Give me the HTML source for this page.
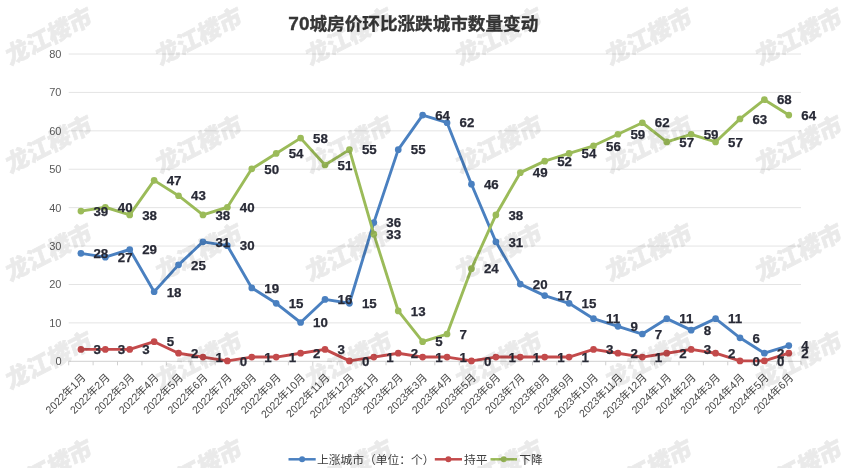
<!DOCTYPE html>
<html lang="zh-CN">
<head>
<meta charset="utf-8">
<title>70城房价环比涨跌城市数量变动</title>
<style>
html,body{margin:0;padding:0;background:#fff;}
body{width:841px;height:468px;overflow:hidden;}
svg{display:block;}
.wm{font-family:"Liberation Sans","Noto Sans CJK SC",sans-serif;font-weight:900;font-size:23.5px;fill:#000;stroke:#000;stroke-width:0.7px;stroke-linejoin:round;}
.title{font-family:"Liberation Sans","Noto Sans CJK SC",sans-serif;font-weight:bold;font-size:17.6px;fill:#363636;stroke:#363636;stroke-width:0.35px;}
.title .n{font-size:19px;}
.yl{font-family:"Liberation Sans","Noto Sans CJK SC",sans-serif;font-size:11px;fill:#595959;}
.xl{font-family:"Liberation Sans","Noto Sans CJK SC",sans-serif;font-size:10.7px;fill:#4a4a4a;}
.dl{font-family:"Liberation Sans","Noto Sans CJK SC",sans-serif;font-size:13.3px;font-weight:bold;fill:#282a36;stroke:#282a36;stroke-width:0.25px;}
.lg{font-family:"Liberation Sans","Noto Sans CJK SC",sans-serif;font-size:11.75px;fill:#404040;}
</style>
</head>
<body>
<svg width="841" height="468" viewBox="0 0 841 468">
<rect x="0" y="0" width="841" height="468" fill="#ffffff"/>

<g stroke="#e4e4e4" stroke-width="1" fill="none">
<line x1="68.7" y1="322.89" x2="801.0" y2="322.89"/>
<line x1="68.7" y1="284.48" x2="801.0" y2="284.48"/>
<line x1="68.7" y1="246.06" x2="801.0" y2="246.06"/>
<line x1="68.7" y1="207.65" x2="801.0" y2="207.65"/>
<line x1="68.7" y1="169.24" x2="801.0" y2="169.24"/>
<line x1="68.7" y1="130.83" x2="801.0" y2="130.83"/>
<line x1="68.7" y1="92.41" x2="801.0" y2="92.41"/>
<line x1="68.7" y1="54.00" x2="801.0" y2="54.00"/>
</g>
<g stroke="#d0d0d0" stroke-width="1" fill="none">
<line x1="68.7" y1="361.30" x2="801.0" y2="361.30"/>
<line x1="68.70" y1="361.30" x2="68.70" y2="365.30"/>
<line x1="93.11" y1="361.30" x2="93.11" y2="365.30"/>
<line x1="117.52" y1="361.30" x2="117.52" y2="365.30"/>
<line x1="141.93" y1="361.30" x2="141.93" y2="365.30"/>
<line x1="166.34" y1="361.30" x2="166.34" y2="365.30"/>
<line x1="190.75" y1="361.30" x2="190.75" y2="365.30"/>
<line x1="215.16" y1="361.30" x2="215.16" y2="365.30"/>
<line x1="239.57" y1="361.30" x2="239.57" y2="365.30"/>
<line x1="263.98" y1="361.30" x2="263.98" y2="365.30"/>
<line x1="288.39" y1="361.30" x2="288.39" y2="365.30"/>
<line x1="312.80" y1="361.30" x2="312.80" y2="365.30"/>
<line x1="337.21" y1="361.30" x2="337.21" y2="365.30"/>
<line x1="361.62" y1="361.30" x2="361.62" y2="365.30"/>
<line x1="386.03" y1="361.30" x2="386.03" y2="365.30"/>
<line x1="410.44" y1="361.30" x2="410.44" y2="365.30"/>
<line x1="434.85" y1="361.30" x2="434.85" y2="365.30"/>
<line x1="459.26" y1="361.30" x2="459.26" y2="365.30"/>
<line x1="483.67" y1="361.30" x2="483.67" y2="365.30"/>
<line x1="508.08" y1="361.30" x2="508.08" y2="365.30"/>
<line x1="532.49" y1="361.30" x2="532.49" y2="365.30"/>
<line x1="556.90" y1="361.30" x2="556.90" y2="365.30"/>
<line x1="581.31" y1="361.30" x2="581.31" y2="365.30"/>
<line x1="605.72" y1="361.30" x2="605.72" y2="365.30"/>
<line x1="630.13" y1="361.30" x2="630.13" y2="365.30"/>
<line x1="654.54" y1="361.30" x2="654.54" y2="365.30"/>
<line x1="678.95" y1="361.30" x2="678.95" y2="365.30"/>
<line x1="703.36" y1="361.30" x2="703.36" y2="365.30"/>
<line x1="727.77" y1="361.30" x2="727.77" y2="365.30"/>
<line x1="752.18" y1="361.30" x2="752.18" y2="365.30"/>
<line x1="776.59" y1="361.30" x2="776.59" y2="365.30"/>
<line x1="801.00" y1="361.30" x2="801.00" y2="365.30"/>
</g>
<g class="yl" text-anchor="end">
<text x="61.5" y="365.30">0</text>
<text x="61.5" y="326.89">10</text>
<text x="61.5" y="288.48">20</text>
<text x="61.5" y="250.06">30</text>
<text x="61.5" y="211.65">40</text>
<text x="61.5" y="173.24">50</text>
<text x="61.5" y="134.83">60</text>
<text x="61.5" y="96.41">70</text>
<text x="61.5" y="58.00">80</text>
</g>
<g class="xl" text-anchor="end">
<text transform="translate(86.20,378.30) rotate(-45)" x="0" y="0">2022年1月</text>
<text transform="translate(110.61,378.30) rotate(-45)" x="0" y="0">2022年2月</text>
<text transform="translate(135.03,378.30) rotate(-45)" x="0" y="0">2022年3月</text>
<text transform="translate(159.44,378.30) rotate(-45)" x="0" y="0">2022年4月</text>
<text transform="translate(183.85,378.30) rotate(-45)" x="0" y="0">2022年5月</text>
<text transform="translate(208.25,378.30) rotate(-45)" x="0" y="0">2022年6月</text>
<text transform="translate(232.67,378.30) rotate(-45)" x="0" y="0">2022年7月</text>
<text transform="translate(257.07,378.30) rotate(-45)" x="0" y="0">2022年8月</text>
<text transform="translate(281.49,378.30) rotate(-45)" x="0" y="0">2022年9月</text>
<text transform="translate(305.90,378.30) rotate(-45)" x="0" y="0">2022年10月</text>
<text transform="translate(330.31,378.30) rotate(-45)" x="0" y="0">2022年11月</text>
<text transform="translate(354.71,378.30) rotate(-45)" x="0" y="0">2022年12月</text>
<text transform="translate(379.12,378.30) rotate(-45)" x="0" y="0">2023年1月</text>
<text transform="translate(403.54,378.30) rotate(-45)" x="0" y="0">2023年2月</text>
<text transform="translate(427.94,378.30) rotate(-45)" x="0" y="0">2023年3月</text>
<text transform="translate(452.36,378.30) rotate(-45)" x="0" y="0">2023年4月</text>
<text transform="translate(476.76,378.30) rotate(-45)" x="0" y="0">2023年5月</text>
<text transform="translate(501.18,378.30) rotate(-45)" x="0" y="0">2023年6月</text>
<text transform="translate(525.58,378.30) rotate(-45)" x="0" y="0">2023年7月</text>
<text transform="translate(550.00,378.30) rotate(-45)" x="0" y="0">2023年8月</text>
<text transform="translate(574.40,378.30) rotate(-45)" x="0" y="0">2023年9月</text>
<text transform="translate(598.82,378.30) rotate(-45)" x="0" y="0">2023年10月</text>
<text transform="translate(623.23,378.30) rotate(-45)" x="0" y="0">2023年11月</text>
<text transform="translate(647.63,378.30) rotate(-45)" x="0" y="0">2023年12月</text>
<text transform="translate(672.04,378.30) rotate(-45)" x="0" y="0">2024年1月</text>
<text transform="translate(696.46,378.30) rotate(-45)" x="0" y="0">2024年2月</text>
<text transform="translate(720.87,378.30) rotate(-45)" x="0" y="0">2024年3月</text>
<text transform="translate(745.27,378.30) rotate(-45)" x="0" y="0">2024年4月</text>
<text transform="translate(769.69,378.30) rotate(-45)" x="0" y="0">2024年5月</text>
<text transform="translate(794.10,378.30) rotate(-45)" x="0" y="0">2024年6月</text>
</g>
<text class="title" x="413.3" y="30.2" text-anchor="middle"><tspan class="n">70</tspan>城房价环比涨跌城市数量变动</text>
<polyline points="80.91,253.34 105.31,257.19 129.72,249.50 154.13,291.76 178.55,264.87 202.95,241.82 227.37,245.66 251.77,287.92 276.19,303.28 300.60,322.49 325.00,299.44 349.41,303.28 373.82,222.61 398.24,149.63 422.64,115.06 447.06,122.74 471.46,184.20 495.88,241.82 520.28,284.08 544.70,295.60 569.11,303.28 593.52,318.65 617.93,326.33 642.34,334.01 666.75,318.65 691.16,330.17 715.57,318.65 739.98,337.85 764.39,353.22 788.80,345.54" fill="none" stroke="#4a80c0" stroke-width="2.9" stroke-linejoin="round" stroke-linecap="round"/>
<g fill="#4a80c0">
<circle cx="80.91" cy="253.34" r="3.35"/>
<circle cx="105.31" cy="257.19" r="3.35"/>
<circle cx="129.72" cy="249.50" r="3.35"/>
<circle cx="154.13" cy="291.76" r="3.35"/>
<circle cx="178.55" cy="264.87" r="3.35"/>
<circle cx="202.95" cy="241.82" r="3.35"/>
<circle cx="227.37" cy="245.66" r="3.35"/>
<circle cx="251.77" cy="287.92" r="3.35"/>
<circle cx="276.19" cy="303.28" r="3.35"/>
<circle cx="300.60" cy="322.49" r="3.35"/>
<circle cx="325.00" cy="299.44" r="3.35"/>
<circle cx="349.41" cy="303.28" r="3.35"/>
<circle cx="373.82" cy="222.61" r="3.35"/>
<circle cx="398.24" cy="149.63" r="3.35"/>
<circle cx="422.64" cy="115.06" r="3.35"/>
<circle cx="447.06" cy="122.74" r="3.35"/>
<circle cx="471.46" cy="184.20" r="3.35"/>
<circle cx="495.88" cy="241.82" r="3.35"/>
<circle cx="520.28" cy="284.08" r="3.35"/>
<circle cx="544.70" cy="295.60" r="3.35"/>
<circle cx="569.11" cy="303.28" r="3.35"/>
<circle cx="593.52" cy="318.65" r="3.35"/>
<circle cx="617.93" cy="326.33" r="3.35"/>
<circle cx="642.34" cy="334.01" r="3.35"/>
<circle cx="666.75" cy="318.65" r="3.35"/>
<circle cx="691.16" cy="330.17" r="3.35"/>
<circle cx="715.57" cy="318.65" r="3.35"/>
<circle cx="739.98" cy="337.85" r="3.35"/>
<circle cx="764.39" cy="353.22" r="3.35"/>
<circle cx="788.80" cy="345.54" r="3.35"/>
</g>
<polyline points="80.91,349.38 105.31,349.38 129.72,349.38 154.13,341.69 178.55,353.22 202.95,357.06 227.37,360.90 251.77,357.06 276.19,357.06 300.60,353.22 325.00,349.38 349.41,360.90 373.82,357.06 398.24,353.22 422.64,357.06 447.06,357.06 471.46,360.90 495.88,357.06 520.28,357.06 544.70,357.06 569.11,357.06 593.52,349.38 617.93,353.22 642.34,357.06 666.75,353.22 691.16,349.38 715.57,353.22 739.98,360.90 764.39,360.90 788.80,353.22" fill="none" stroke="#c34a4b" stroke-width="2.9" stroke-linejoin="round" stroke-linecap="round"/>
<g fill="#c34a4b">
<circle cx="80.91" cy="349.38" r="3.35"/>
<circle cx="105.31" cy="349.38" r="3.35"/>
<circle cx="129.72" cy="349.38" r="3.35"/>
<circle cx="154.13" cy="341.69" r="3.35"/>
<circle cx="178.55" cy="353.22" r="3.35"/>
<circle cx="202.95" cy="357.06" r="3.35"/>
<circle cx="227.37" cy="360.90" r="3.35"/>
<circle cx="251.77" cy="357.06" r="3.35"/>
<circle cx="276.19" cy="357.06" r="3.35"/>
<circle cx="300.60" cy="353.22" r="3.35"/>
<circle cx="325.00" cy="349.38" r="3.35"/>
<circle cx="349.41" cy="360.90" r="3.35"/>
<circle cx="373.82" cy="357.06" r="3.35"/>
<circle cx="398.24" cy="353.22" r="3.35"/>
<circle cx="422.64" cy="357.06" r="3.35"/>
<circle cx="447.06" cy="357.06" r="3.35"/>
<circle cx="471.46" cy="360.90" r="3.35"/>
<circle cx="495.88" cy="357.06" r="3.35"/>
<circle cx="520.28" cy="357.06" r="3.35"/>
<circle cx="544.70" cy="357.06" r="3.35"/>
<circle cx="569.11" cy="357.06" r="3.35"/>
<circle cx="593.52" cy="349.38" r="3.35"/>
<circle cx="617.93" cy="353.22" r="3.35"/>
<circle cx="642.34" cy="357.06" r="3.35"/>
<circle cx="666.75" cy="353.22" r="3.35"/>
<circle cx="691.16" cy="349.38" r="3.35"/>
<circle cx="715.57" cy="353.22" r="3.35"/>
<circle cx="739.98" cy="360.90" r="3.35"/>
<circle cx="764.39" cy="360.90" r="3.35"/>
<circle cx="788.80" cy="353.22" r="3.35"/>
</g>
<polyline points="80.91,211.09 105.31,207.25 129.72,214.93 154.13,180.36 178.55,195.73 202.95,214.93 227.37,207.25 251.77,168.84 276.19,153.47 300.60,138.11 325.00,165.00 349.41,149.63 373.82,234.14 398.24,310.96 422.64,341.69 447.06,334.01 471.46,268.71 495.88,214.93 520.28,172.68 544.70,161.16 569.11,153.47 593.52,145.79 617.93,134.27 642.34,122.74 666.75,141.95 691.16,134.27 715.57,141.95 739.98,118.90 764.39,99.69 788.80,115.06" fill="none" stroke="#9bbb59" stroke-width="2.9" stroke-linejoin="round" stroke-linecap="round"/>
<g fill="#9bbb59">
<circle cx="80.91" cy="211.09" r="3.35"/>
<circle cx="105.31" cy="207.25" r="3.35"/>
<circle cx="129.72" cy="214.93" r="3.35"/>
<circle cx="154.13" cy="180.36" r="3.35"/>
<circle cx="178.55" cy="195.73" r="3.35"/>
<circle cx="202.95" cy="214.93" r="3.35"/>
<circle cx="227.37" cy="207.25" r="3.35"/>
<circle cx="251.77" cy="168.84" r="3.35"/>
<circle cx="276.19" cy="153.47" r="3.35"/>
<circle cx="300.60" cy="138.11" r="3.35"/>
<circle cx="325.00" cy="165.00" r="3.35"/>
<circle cx="349.41" cy="149.63" r="3.35"/>
<circle cx="373.82" cy="234.14" r="3.35"/>
<circle cx="398.24" cy="310.96" r="3.35"/>
<circle cx="422.64" cy="341.69" r="3.35"/>
<circle cx="447.06" cy="334.01" r="3.35"/>
<circle cx="471.46" cy="268.71" r="3.35"/>
<circle cx="495.88" cy="214.93" r="3.35"/>
<circle cx="520.28" cy="172.68" r="3.35"/>
<circle cx="544.70" cy="161.16" r="3.35"/>
<circle cx="569.11" cy="153.47" r="3.35"/>
<circle cx="593.52" cy="145.79" r="3.35"/>
<circle cx="617.93" cy="134.27" r="3.35"/>
<circle cx="642.34" cy="122.74" r="3.35"/>
<circle cx="666.75" cy="141.95" r="3.35"/>
<circle cx="691.16" cy="134.27" r="3.35"/>
<circle cx="715.57" cy="141.95" r="3.35"/>
<circle cx="739.98" cy="118.90" r="3.35"/>
<circle cx="764.39" cy="99.69" r="3.35"/>
<circle cx="788.80" cy="115.06" r="3.35"/>
</g>
<g class="dl">
<text x="93.41" y="258.10">28</text>
<text x="117.81" y="261.94">27</text>
<text x="142.22" y="254.25">29</text>
<text x="166.63" y="296.51">18</text>
<text x="191.05" y="269.62">25</text>
<text x="215.45" y="246.57">31</text>
<text x="239.87" y="250.41">30</text>
<text x="264.27" y="292.67">19</text>
<text x="288.69" y="308.03">15</text>
<text x="313.10" y="327.24">10</text>
<text x="337.50" y="304.19">16</text>
<text x="361.91" y="308.03">15</text>
<text x="386.32" y="227.36">36</text>
<text x="410.74" y="154.38">55</text>
<text x="435.14" y="119.81">64</text>
<text x="459.56" y="127.49">62</text>
<text x="483.96" y="188.95">46</text>
<text x="508.38" y="246.57">31</text>
<text x="532.78" y="288.83">20</text>
<text x="557.20" y="300.35">17</text>
<text x="581.61" y="308.03">15</text>
<text x="606.02" y="323.40">11</text>
<text x="630.43" y="331.08">9</text>
<text x="654.84" y="338.76">7</text>
<text x="679.25" y="323.40">11</text>
<text x="703.66" y="334.92">8</text>
<text x="728.07" y="323.40">11</text>
<text x="752.48" y="342.60">6</text>
<text x="776.89" y="357.97">2</text>
<text x="801.30" y="350.29">4</text>
<text x="93.41" y="354.13">3</text>
<text x="117.81" y="354.13">3</text>
<text x="142.22" y="354.13">3</text>
<text x="166.63" y="346.44">5</text>
<text x="191.05" y="357.97">2</text>
<text x="215.45" y="361.81">1</text>
<text x="239.87" y="365.65">0</text>
<text x="264.27" y="361.81">1</text>
<text x="288.69" y="361.81">1</text>
<text x="313.10" y="357.97">2</text>
<text x="337.50" y="354.13">3</text>
<text x="361.91" y="365.65">0</text>
<text x="386.32" y="361.81">1</text>
<text x="410.74" y="357.97">2</text>
<text x="435.14" y="361.81">1</text>
<text x="459.56" y="361.81">1</text>
<text x="483.96" y="365.65">0</text>
<text x="508.38" y="361.81">1</text>
<text x="532.78" y="361.81">1</text>
<text x="557.20" y="361.81">1</text>
<text x="581.61" y="361.81">1</text>
<text x="606.02" y="354.13">3</text>
<text x="630.43" y="357.97">2</text>
<text x="654.84" y="361.81">1</text>
<text x="679.25" y="357.97">2</text>
<text x="703.66" y="354.13">3</text>
<text x="728.07" y="357.97">2</text>
<text x="752.48" y="365.65">0</text>
<text x="776.89" y="365.65">0</text>
<text x="801.30" y="357.97">2</text>
<text x="93.41" y="215.84">39</text>
<text x="117.81" y="212.00">40</text>
<text x="142.22" y="219.68">38</text>
<text x="166.63" y="185.11">47</text>
<text x="191.05" y="200.48">43</text>
<text x="215.45" y="219.68">38</text>
<text x="239.87" y="212.00">40</text>
<text x="264.27" y="173.59">50</text>
<text x="288.69" y="158.22">54</text>
<text x="313.10" y="142.86">58</text>
<text x="337.50" y="169.75">51</text>
<text x="361.91" y="154.38">55</text>
<text x="386.32" y="238.89">33</text>
<text x="410.74" y="315.71">13</text>
<text x="435.14" y="346.44">5</text>
<text x="459.56" y="338.76">7</text>
<text x="483.96" y="273.46">24</text>
<text x="508.38" y="219.68">38</text>
<text x="532.78" y="177.43">49</text>
<text x="557.20" y="165.91">52</text>
<text x="581.61" y="158.22">54</text>
<text x="606.02" y="150.54">56</text>
<text x="630.43" y="139.02">59</text>
<text x="654.84" y="127.49">62</text>
<text x="679.25" y="146.70">57</text>
<text x="703.66" y="139.02">59</text>
<text x="728.07" y="146.70">57</text>
<text x="752.48" y="123.65">63</text>
<text x="776.89" y="104.44">68</text>
<text x="801.30" y="119.81">64</text>
</g>
<line x1="288.5" y1="459.3" x2="315.7" y2="459.3" stroke="#4a80c0" stroke-width="2.5" stroke-linecap="butt"/>
<circle cx="302.1" cy="459.3" r="3.0" fill="#4a80c0"/>
<text class="lg" x="317" y="463.6">上涨城市（单位：个）</text>
<line x1="434.8" y1="459.3" x2="462" y2="459.3" stroke="#c34a4b" stroke-width="2.5" stroke-linecap="butt"/>
<circle cx="448.4" cy="459.3" r="3.0" fill="#c34a4b"/>
<text class="lg" x="464" y="463.6">持平</text>
<line x1="490.5" y1="459.3" x2="517" y2="459.3" stroke="#9bbb59" stroke-width="2.5" stroke-linecap="butt"/>
<circle cx="503.75" cy="459.3" r="3.0" fill="#9bbb59"/>
<text class="lg" x="519.3" y="463.6">下降</text>
<g class="wm" text-anchor="middle" opacity="0.085">
<text transform="translate(49,36.6) rotate(-27) skewX(-8)" x="0" y="8">龙江楼市</text>
<text transform="translate(199,36.6) rotate(-27) skewX(-8)" x="0" y="8">龙江楼市</text>
<text transform="translate(349,36.6) rotate(-27) skewX(-8)" x="0" y="8">龙江楼市</text>
<text transform="translate(499,36.6) rotate(-27) skewX(-8)" x="0" y="8">龙江楼市</text>
<text transform="translate(649,36.6) rotate(-27) skewX(-8)" x="0" y="8">龙江楼市</text>
<text transform="translate(799,36.6) rotate(-27) skewX(-8)" x="0" y="8">龙江楼市</text>
<text transform="translate(49,144.6) rotate(-27) skewX(-8)" x="0" y="8">龙江楼市</text>
<text transform="translate(199,144.6) rotate(-27) skewX(-8)" x="0" y="8">龙江楼市</text>
<text transform="translate(349,144.6) rotate(-27) skewX(-8)" x="0" y="8">龙江楼市</text>
<text transform="translate(499,144.6) rotate(-27) skewX(-8)" x="0" y="8">龙江楼市</text>
<text transform="translate(649,144.6) rotate(-27) skewX(-8)" x="0" y="8">龙江楼市</text>
<text transform="translate(799,144.6) rotate(-27) skewX(-8)" x="0" y="8">龙江楼市</text>
<text transform="translate(49,252.6) rotate(-27) skewX(-8)" x="0" y="8">龙江楼市</text>
<text transform="translate(199,252.6) rotate(-27) skewX(-8)" x="0" y="8">龙江楼市</text>
<text transform="translate(349,252.6) rotate(-27) skewX(-8)" x="0" y="8">龙江楼市</text>
<text transform="translate(499,252.6) rotate(-27) skewX(-8)" x="0" y="8">龙江楼市</text>
<text transform="translate(649,252.6) rotate(-27) skewX(-8)" x="0" y="8">龙江楼市</text>
<text transform="translate(799,252.6) rotate(-27) skewX(-8)" x="0" y="8">龙江楼市</text>
<text transform="translate(49,360.6) rotate(-27) skewX(-8)" x="0" y="8">龙江楼市</text>
<text transform="translate(199,360.6) rotate(-27) skewX(-8)" x="0" y="8">龙江楼市</text>
<text transform="translate(349,360.6) rotate(-27) skewX(-8)" x="0" y="8">龙江楼市</text>
<text transform="translate(499,360.6) rotate(-27) skewX(-8)" x="0" y="8">龙江楼市</text>
<text transform="translate(649,360.6) rotate(-27) skewX(-8)" x="0" y="8">龙江楼市</text>
<text transform="translate(799,360.6) rotate(-27) skewX(-8)" x="0" y="8">龙江楼市</text>
<text transform="translate(49,468.6) rotate(-27) skewX(-8)" x="0" y="8">龙江楼市</text>
<text transform="translate(199,468.6) rotate(-27) skewX(-8)" x="0" y="8">龙江楼市</text>
<text transform="translate(349,468.6) rotate(-27) skewX(-8)" x="0" y="8">龙江楼市</text>
<text transform="translate(499,468.6) rotate(-27) skewX(-8)" x="0" y="8">龙江楼市</text>
<text transform="translate(649,468.6) rotate(-27) skewX(-8)" x="0" y="8">龙江楼市</text>
<text transform="translate(799,468.6) rotate(-27) skewX(-8)" x="0" y="8">龙江楼市</text>
</g>
</svg>
</body>
</html>
